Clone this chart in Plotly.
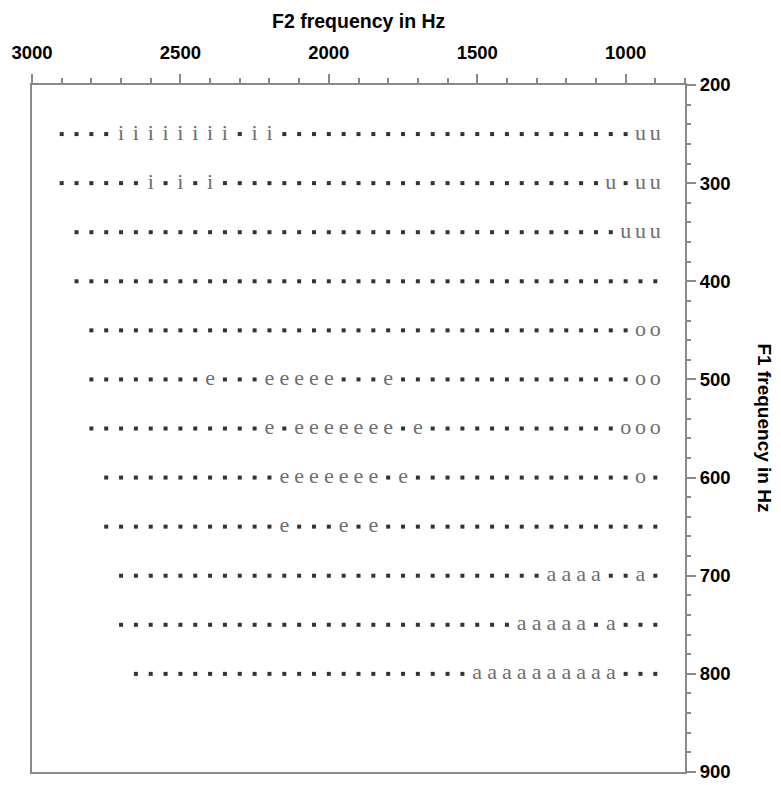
import plotly.graph_objects as go

# ---- data ----
F1_ROWS = [250, 300, 350, 400, 450, 500, 550, 600, 650, 700, 750, 800]
ROW_F2_MAX = [2900, 2900, 2850, 2850, 2800, 2800, 2800, 2750, 2750, 2700, 2700, 2650]
ROW_F2_MIN = [900, 900, 900, 900, 900, 900, 900, 900, 900, 900, 900, 900]
GRID_STEP = 50

I_F2 = [2700, 2650, 2600, 2550, 2500, 2450, 2400, 2350, 2250, 2200, 2600, 2500, 2400]
I_F1 = [250, 250, 250, 250, 250, 250, 250, 250, 250, 250, 300, 300, 300]

U_F2 = [950, 900, 1050, 950, 900, 1000, 950, 900]
U_F1 = [250, 250, 300, 300, 300, 350, 350, 350]

E_F2 = [2400, 2200, 2150, 2100, 2050, 2000, 1800,
        2200, 2100, 2050, 2000, 1950, 1900, 1850, 1800, 1700,
        2150, 2100, 2050, 2000, 1950, 1900, 1850, 1750,
        2150, 1950, 1850]
E_F1 = [500] * 7 + [550] * 9 + [600] * 8 + [650] * 3

O_F2 = [950, 900, 950, 900, 1000, 950, 900, 950]
O_F1 = [450, 450, 500, 500, 550, 550, 550, 600]

A_F2 = [1250, 1200, 1150, 1100, 950,
        1350, 1300, 1250, 1200, 1150, 1050,
        1500, 1450, 1400, 1350, 1300, 1250, 1200, 1150, 1100, 1050]
A_F1 = [700] * 5 + [750] * 6 + [800] * 10

X_TICKS = [3000, 2500, 2000, 1500, 1000]
Y_TICKS = [200, 300, 400, 500, 600, 700, 800, 900]

VOWELS = [("i", I_F2, I_F1), ("u", U_F2, U_F1), ("e", E_F2, E_F1),
          ("o", O_F2, O_F1), ("a", A_F2, A_F1)]

# ---- build the grid of dots (points without a vowel label) ----
labelled = set()
for _, xs, ys in VOWELS:
    for x, y in zip(xs, ys):
        labelled.add((x, y))

dot_x, dot_y = [], []
for f1, hi, lo in zip(F1_ROWS, ROW_F2_MAX, ROW_F2_MIN):
    for f2 in range(hi, lo - 1, -GRID_STEP):
        if (f2, f1) not in labelled:
            dot_x.append(f2)
            dot_y.append(f1)

fig = go.Figure()
fig.add_trace(go.Scatter(
    x=dot_x, y=dot_y, mode="markers",
    marker=dict(symbol="square", size=4, color="#333333"),
    hoverinfo="skip", showlegend=False))

for label, xs, ys in VOWELS:
    fig.add_trace(go.Scatter(
        x=xs, y=ys, mode="text", text=[label] * len(xs),
        textposition="middle center",
        textfont=dict(family="Liberation Serif", size=22, color="#6e6e6e"),
        hoverinfo="skip", showlegend=False))

tick_font = dict(family="Liberation Sans", size=18.5, color="black", weight="bold")
axis_col = "#8a8a8a"

# page body adds an 8px offset; figure sized so the plot box lands where the reference has it
fig.update_layout(
    width=773, height=777,
    margin=dict(l=24, r=96, t=77, b=13),
    paper_bgcolor="white", plot_bgcolor="white",
    xaxis=dict(
        side="top", range=[3000, 800], tickmode="array", tickvals=X_TICKS,
        ticks="outside", ticklen=9, tickwidth=2, tickcolor=axis_col,
        showline=True, linecolor=axis_col, linewidth=2, mirror=True,
        showgrid=False, zeroline=False, tickfont=tick_font, automargin=False,
        ticklabelstandoff=8,
        minor=dict(dtick=100, tick0=800, ticks="outside", ticklen=5,
                   tickwidth=1.5, tickcolor=axis_col, showgrid=False),
    ),
    yaxis=dict(
        side="right", range=[900, 200], tickmode="array", tickvals=Y_TICKS,
        ticks="outside", ticklen=9, tickwidth=2, tickcolor=axis_col,
        showline=True, linecolor=axis_col, linewidth=2, mirror=True,
        showgrid=False, zeroline=False, tickfont=tick_font, automargin=False,
        minor=dict(dtick=20, tick0=200, ticks="outside", ticklen=4,
                   tickwidth=1.5, tickcolor=axis_col, showgrid=False),
    ),
    annotations=[
        dict(text="<b>F2 frequency in Hz</b>", xref="paper", yref="paper",
             x=0.5, y=1.111, xanchor="center", yanchor="top", showarrow=False,
             borderpad=0,
             font=dict(family="Liberation Sans", size=19.5, color="black")),
        dict(text="<b>F1 frequency in Hz</b>", xref="paper", yref="paper",
             x=1.1225, y=0.5, xanchor="center", yanchor="middle", showarrow=False,
             textangle=90,
             font=dict(family="Liberation Sans", size=19, color="black")),
    ],
)

fig.write_html("out.html")
